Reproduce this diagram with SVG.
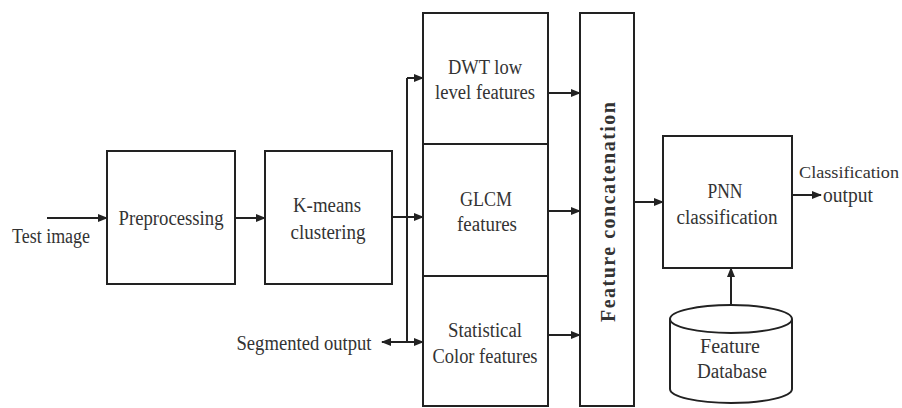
<svg xmlns="http://www.w3.org/2000/svg" width="902" height="408" viewBox="0 0 902 408">
<style>
.box{fill:#fff;stroke:#222;stroke-width:2}
.ln{fill:none;stroke:#222;stroke-width:2}
.t{font-family:"Liberation Serif","Times New Roman",serif;font-size:20px;fill:#333;text-anchor:middle}
.b{font-family:"Liberation Serif","Times New Roman",serif;font-size:20px;font-weight:bold;fill:#333;text-anchor:middle}
</style>
<defs>
<marker id="ah" markerUnits="userSpaceOnUse" markerWidth="10" markerHeight="10" refX="9" refY="5" orient="auto-start-reverse">
<path d="M0,1 L10,5 L0,9 z" fill="#222"/>
</marker>
</defs>
<rect width="902" height="408" fill="#fff"/>
<g id="connectors">
<line class="ln" x1="47" y1="218" x2="107" y2="218" marker-end="url(#ah)"/>
<line class="ln" x1="235" y1="218" x2="265" y2="218" marker-end="url(#ah)"/>
<line class="ln" x1="392" y1="217" x2="423" y2="217" marker-end="url(#ah)"/>
<line class="ln" x1="407" y1="78" x2="407" y2="342"/>
<line class="ln" x1="407" y1="78" x2="423" y2="78" marker-end="url(#ah)"/>
<line class="ln" x1="382" y1="342" x2="423" y2="342" marker-start="url(#ah)" marker-end="url(#ah)"/>
<line class="ln" x1="548" y1="93" x2="580" y2="93" marker-end="url(#ah)"/>
<line class="ln" x1="548" y1="211" x2="580" y2="211" marker-end="url(#ah)"/>
<line class="ln" x1="548" y1="335" x2="580" y2="335" marker-end="url(#ah)"/>
<line class="ln" x1="634" y1="202" x2="663" y2="202" marker-end="url(#ah)"/>
<line class="ln" x1="792" y1="195" x2="821" y2="195" marker-end="url(#ah)"/>
<line class="ln" x1="731" y1="305" x2="731" y2="268" marker-end="url(#ah)"/>
</g>
<g id="test-image"><text class="t" x="51" y="243" textLength="78" lengthAdjust="spacingAndGlyphs">Test image</text></g>
<g id="preprocessing">
<rect class="box" x="107" y="151" width="128" height="133"/>
<text class="t" x="171" y="225" textLength="105" lengthAdjust="spacingAndGlyphs">Preprocessing</text>
</g>
<g id="kmeans">
<rect class="box" x="265" y="151" width="127" height="133"/>
<text class="t" x="327" y="212" textLength="68" lengthAdjust="spacingAndGlyphs">K-means</text>
<text class="t" x="328" y="239" textLength="75" lengthAdjust="spacingAndGlyphs">clustering</text>
</g>
<g id="segmented-output"><text class="t" x="304" y="350" textLength="135" lengthAdjust="spacingAndGlyphs">Segmented output</text></g>
<g id="dwt">
<rect class="box" x="423" y="13" width="125" height="131"/>
<text class="t" x="485" y="74" textLength="74" lengthAdjust="spacingAndGlyphs">DWT low</text>
<text class="t" x="485" y="99" textLength="100" lengthAdjust="spacingAndGlyphs">level features</text>
</g>
<g id="glcm">
<rect class="box" x="423" y="144" width="125" height="132"/>
<text class="t" x="486" y="206" textLength="52" lengthAdjust="spacingAndGlyphs">GLCM</text>
<text class="t" x="487" y="231" textLength="60" lengthAdjust="spacingAndGlyphs">features</text>
</g>
<g id="statistical">
<rect class="box" x="423" y="276" width="125" height="130"/>
<text class="t" x="485" y="337" textLength="74" lengthAdjust="spacingAndGlyphs">Statistical</text>
<text class="t" x="485" y="363" textLength="105" lengthAdjust="spacingAndGlyphs">Color features</text>
</g>
<g id="concatenation">
<rect class="box" x="580" y="13" width="54" height="393"/>
<text class="b" x="0" y="0" transform="translate(615,212) rotate(-90)" textLength="220" lengthAdjust="spacing">Feature  concatenation</text>
</g>
<g id="pnn">
<rect class="box" x="663" y="136" width="129" height="132"/>
<text class="t" x="725" y="198" textLength="35" lengthAdjust="spacingAndGlyphs">PNN</text>
<text class="t" x="727" y="224" textLength="101" lengthAdjust="spacingAndGlyphs">classification</text>
</g>
<g id="classification-output">
<text class="t" x="849" y="178" style="font-size:17px" textLength="100" lengthAdjust="spacingAndGlyphs">Classification</text>
<text class="t" x="848" y="202" textLength="50" lengthAdjust="spacingAndGlyphs">output</text>
</g>
<g id="feature-database">
<path class="box" d="M670,319 L670,389 A61,14 0 0 0 792,389 L792,319"/>
<ellipse class="box" cx="731" cy="319" rx="61" ry="14"/>
<text class="t" x="730" y="353" textLength="60" lengthAdjust="spacingAndGlyphs">Feature</text>
<text class="t" x="732" y="378" textLength="70" lengthAdjust="spacingAndGlyphs">Database</text>
</g>
</svg>
